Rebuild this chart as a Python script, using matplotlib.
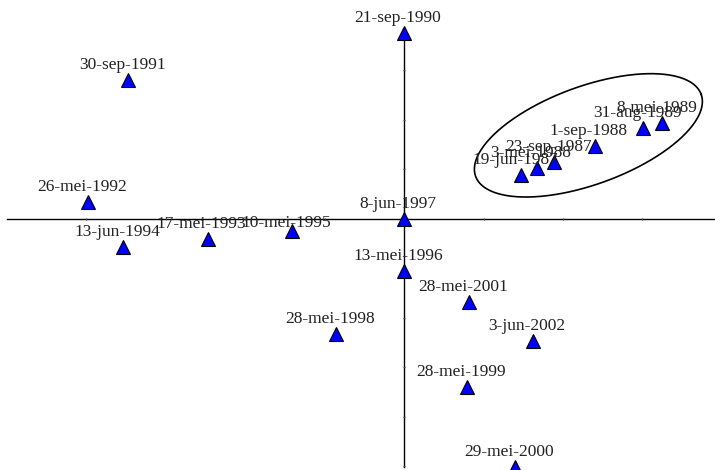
import numpy as np
import matplotlib.pyplot as plt

# Survey dates and their scores on the first two dimensions
dates = [
    "21-sep-1990", "30-sep-1991", "26-mei-1992", "13-jun-1994",
    "17-mei-1993", "10-mei-1995", "8-jun-1997", "13-mei-1996",
    "28-mei-2001", "28-mei-1998", "3-jun-2002", "28-mei-1999",
    "29-mei-2000", "19-jun-1987", "3-mei-1988", "23-sep-1987",
    "1-sep-1988", "31-aug-1989", "8-mei-1989",
]
dim1 = [0.00, -3.47, -3.97, -3.53, -2.47, -1.41, 0.00, 0.00,
        0.82, -0.86, 1.62, 0.79, 1.40, 1.47, 1.67, 1.89,
        2.40, 3.01, 3.25]
dim2 = [3.76, 2.81, 0.34, -0.57, -0.40, -0.24, 0.00, -1.05,
        -1.68, -2.32, -2.46, -3.39, -5.01, 0.89, 1.03, 1.15,
        1.47, 1.84, 1.94]

# Early surveys that form a group in the upper right
cluster = ["19-jun-1987", "3-mei-1988", "23-sep-1987",
           "1-sep-1988", "31-aug-1989", "8-mei-1989"]

# pixels per unit on each axis
xscale, yscale = 79.5, 49.5

fig = plt.figure(figsize=(7.15, 4.70), dpi=100)
ax = fig.add_axes([0, 0, 1, 1])
ax.set_xlim(-5.082, 3.912)
ax.set_ylim(-5.071, 4.424)
ax.axis("off")

# Cross-shaped axes through the origin with small tick marks
ax.plot([-4.99, 3.912], [0, 0], color="black", lw=1.0, zorder=1)
ax.plot([0, 0], [-5.01, 3.86], color="black", lw=1.0, zorder=1)
xt = np.arange(-4, 4)
yt = np.arange(-5, 4)
ax.plot(xt, np.zeros_like(xt), ls="none", marker="|", ms=1.8,
        color="#444444", mew=0.8, zorder=1)
ax.plot(np.zeros_like(yt), yt, ls="none", marker="_", ms=1.8,
        color="#444444", mew=0.8, zorder=1)

ax.plot(dim1, dim2, ls="none", marker="^", ms=9.5, mfc="#0000ff",
        mec="black", mew=0.8, zorder=3)

offsets = {"10-mei-1995": (-6, 8)}
for name, x, y in zip(dates, dim1, dim2):
    ax.annotate(name, (x, y), xytext=offsets.get(name, (-6, 15)),
                textcoords="offset pixels", ha="center", va="center",
                fontsize=12.5, family="Liberation Serif", color="#222222",
                zorder=4)

# Ellipse around the group and its labels, built in pixel space
cx = np.array([dim1[dates.index(n)] for n in cluster])
cy = np.array([dim2[dates.index(n)] for n in cluster])
px = cx.mean() * xscale + 3
py = cy.mean() * yscale + 15
angle = np.radians(20)
t = np.linspace(0, 2 * np.pi, 300)
a, b = 120, 49
ex = px + a * np.cos(t) * np.cos(angle) - b * np.sin(t) * np.sin(angle)
ey = py + a * np.cos(t) * np.sin(angle) + b * np.sin(t) * np.cos(angle)
ax.plot(ex / xscale, ey / yscale, color="black", lw=1.2, zorder=2)

fig.savefig("out.png", dpi=100)
